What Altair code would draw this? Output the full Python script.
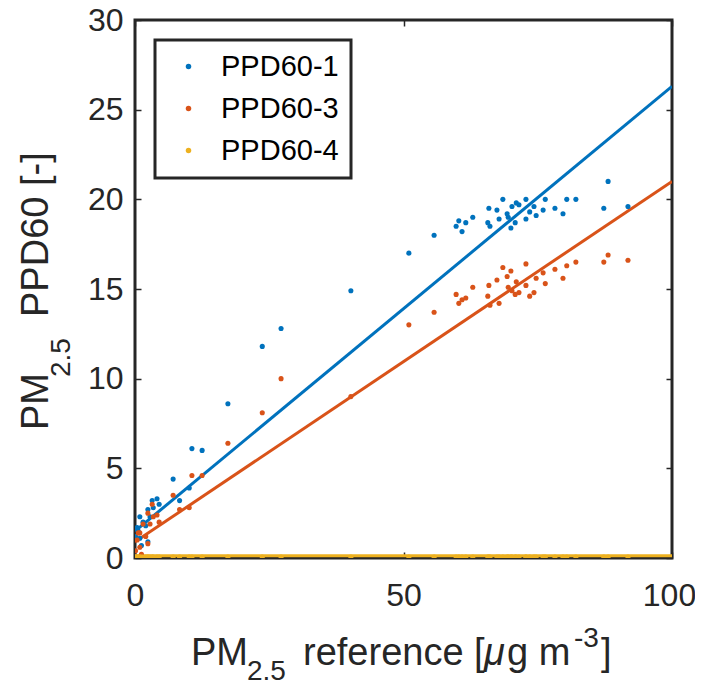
import altair as alt
import pandas as pd

series = ["PPD60-1", "PPD60-3", "PPD60-4"]
colors = ["#0072BD", "#D95319", "#EDB120"]

ref_x = [88.1, 87.3, 91.8, 82.1, 80.4, 78.2, 79.7, 76.4, 76.0, 74.3,
         74.7, 72.8, 72.8, 71.5, 70.8, 70.0, 69.5, 68.5, 69.3, 70.2,
         67.8, 67.4, 65.9, 65.7, 66.1, 62.9, 61.6, 60.3, 59.8, 60.9,
         55.7, 51.0, 73.5, 71.0, 40.2, 27.2, 23.7, 17.3, 10.6, 12.5,
         7.1, 8.3, 10.1, 3.2, 4.1, 2.4, 2.8, 3.4, 0.9, 0.4,
         2.4, 0.9, 0.1, 1.5, 0.6, 4.5, 1.2, 2.0]
ppd1 = [21.0, 19.5, 19.6, 20.0, 20.0, 19.5, 19.2, 20.0, 19.4, 19.6,
        19.1, 20.0, 18.9, 19.7, 18.7, 18.4, 19.0, 20.0, 19.2, 19.6,
        18.9, 19.4, 19.5, 18.7, 18.5, 19.0, 18.7, 18.8, 18.5, 18.2,
        18.0, 17.0, 19.3, 19.8, 14.9, 12.8, 11.8, 8.6, 6.1, 6.0,
        4.4, 3.2, 3.9, 3.2, 3.3, 2.7, 2.3, 2.8, 2.3, 1.7,
        0.9, 1.1, 1.2, 2.0, 1.5, 3.0, 0.7, 1.8]
ppd3 = [16.9, 16.5, 16.6, 16.5, 16.3, 16.1, 15.6, 15.3, 15.9, 14.8,
        15.6, 16.4, 15.2, 14.8, 14.7, 16.0, 15.1, 16.2, 15.7, 14.9,
        14.2, 15.5, 15.2, 14.6, 14.1, 15.1, 14.5, 14.2, 14.7, 14.4,
        13.7, 13.0, 14.6, 15.4, 9.0, 10.0, 8.1, 6.4, 4.6, 4.6,
        3.5, 2.7, 2.8, 3.0, 2.4, 2.5, 1.9, 2.3, 1.4, 1.0,
        0.8, 0.6, 0.4, 1.9, 1.4, 2.0, 0.2, 1.2]
ppd4 = [0.05] * len(ref_x)

fit_x = [0, 100]
fit1 = [1.5, 26.3]
fit3 = [0.9, 21.0]
fit4 = [0.12, 0.12]

pts = pd.concat([
    pd.DataFrame({"x": ref_x, "y": ys, "series": s})
    for s, ys in zip(series, [ppd1, ppd3, ppd4])
])
fits = pd.concat([
    pd.DataFrame({"x": fit_x, "y": ys, "series": s})
    for s, ys in zip(series, [fit1, fit3, fit4])
])

FONT = "Liberation Sans"
TXT = "#262626"
X0, Y0 = 135, 20  # plot origin on the page (for title pieces)

x_scale = alt.Scale(domain=[0, 100], nice=False, zero=False)
y_scale = alt.Scale(domain=[0, 30], nice=False, zero=False)

common = dict(offset=-6, tickSize=6, tickWidth=1.5, tickColor=TXT,
              domain=False, grid=False, labelFontSize=32, labelColor=TXT,
              labelFont=FONT, title=None, labelFlush=False)
x_axis = alt.Axis(values=[0, 50, 100], labelPadding=22,
                  labelOffset={"condition": {"test": "datum.value == 100",
                                             "value": -3},
                               "value": 0},
                  **common)
y_axis = alt.Axis(values=[0, 5, 10, 15, 20, 25, 30], labelPadding=12, **common)

x_top = alt.Axis(values=[0, 50, 100], orient="top", title=None, labels=False,
                 offset=-6, tickSize=6, tickWidth=1.5, tickColor=TXT,
                 domain=False, grid=False)
y_right = alt.Axis(values=[0, 5, 10, 15, 20, 25, 30], orient="right",
                   title=None, labels=False, offset=-6, tickSize=6,
                   tickWidth=1.5, tickColor=TXT, domain=False, grid=False)

points = alt.Chart(pts).mark_circle(size=26, opacity=1, clip=True).encode(
    x=alt.X("x:Q", scale=x_scale, axis=x_axis),
    y=alt.Y("y:Q", scale=y_scale, axis=y_axis),
    color=alt.Color("series:N",
                    scale=alt.Scale(domain=series, range=colors),
                    legend=alt.Legend(title=None, orient="none",
                                      legendX=20, legendY=20,
                                      labelFontSize=29, labelFont=FONT,
                                      labelColor="#000000",
                                      symbolType="circle", symbolSize=30,
                                      symbolStrokeWidth=0,
                                      padding=12, rowPadding=12,
                                      symbolOffset=7, labelOffset=18,
                                      strokeColor="#262626",
                                      fillColor="white")),
)

line_layers = []
for i, (s, c) in enumerate(zip(series, colors)):
    line_layers.append(
        alt.Chart(fits).transform_filter(alt.datum.series == s)
        .mark_line(strokeWidth=3, clip=True, color=c).encode(
            x=alt.X("x:Q", scale=x_scale, axis=x_top if i == 0 else None),
            y=alt.Y("y:Q", scale=y_scale, axis=y_right if i == 0 else None),
        )
    )

# axis titles with sub/superscripts, built from text pieces
x_title_pieces = [
    ("PM", 191, 665, 38, "normal"),
    ("2.5", 247, 680, 28, "normal"),
    ("reference [", 303, 665, 38, "normal"),
    ("μ", 484, 665, 38, "italic"),
    ("g m", 507, 665, 38, "normal"),
    ("-3", 574, 647, 28, "normal"),
    ("]", 601, 665, 38, "normal"),
]
y_title_pieces = [
    ("PM", 48, 430, 38),
    ("2.5", 70, 377, 28),
    ("PPD60 [-]", 48, 317, 38),
]
anchor = pd.DataFrame({"k": [0]})
title_layers = []
for t, px, py, fs, st in x_title_pieces:
    title_layers.append(
        alt.Chart(anchor).mark_text(
            text=t, x=px - X0, y=py - Y0, fontSize=fs, font=FONT,
            fontStyle=st, color=TXT, align="left", baseline="alphabetic")
    )
for t, px, py, fs in y_title_pieces:
    title_layers.append(
        alt.Chart(anchor).mark_text(
            text=t, x=px - X0, y=py - Y0, fontSize=fs, font=FONT,
            color=TXT, align="left", baseline="alphabetic", angle=270)
    )

chart = alt.layer(*line_layers, points, *title_layers).resolve_axis(
    x="independent", y="independent"
).properties(
    width=537, height=538,
    autosize=alt.AutoSizeParams(type="none"),
    padding={"left": 127, "top": 12, "right": 23, "bottom": 122},
    background="white",
).configure_view(
    stroke=TXT, strokeWidth=3
).configure_legend(
    strokeWidth=3
)

chart.save("out.html", embed_options={"renderer": "svg", "actions": False})
